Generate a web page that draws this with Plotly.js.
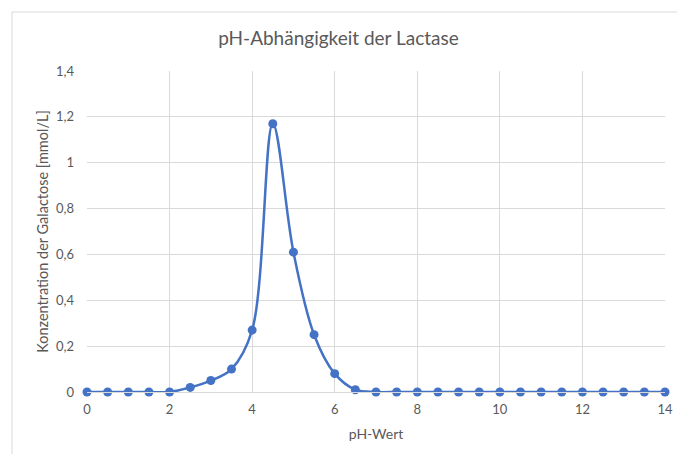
<!DOCTYPE html>
<html>
<head>
<meta charset="utf-8">
<script src="https://cdn.plot.ly/plotly-3.0.1.min.js"></script>
<style>
html,body{margin:0;padding:0;background:#fff;}
#chart{width:677px;height:454px;}
</style>
</head>
<body>
<div id="chart"></div>
<script>
const phValues = [0,0.5,1,1.5,2,2.5,3,3.5,4,4.5,5,5.5,6,6.5,7,7.5,8,8.5,9,9.5,10,10.5,11,11.5,12,12.5,13,13.5,14];
const galactose = [0,0,0,0,0,0.02,0.05,0.1,0.27,1.17,0.61,0.25,0.08,0.01,0,0,0,0,0,0,0,0,0,0,0,0,0,0,0];
const xTicks = [0,2,4,6,8,10,12,14];
const yTicks = [0,0.2,0.4,0.6,0.8,1,1.2,1.4];
const titleText = 'pH-Abhängigkeit der Lactase';
const xTitle = 'pH-Wert';
const yTitle = 'Konzentration der Galactose [mmol/L]';

const font = 'Lato, "Open Sans", sans-serif';
const grey = '#595959';

Plotly.newPlot('chart', [{
  x: phValues, y: galactose, type: 'scatter', mode: 'lines+markers',
  line: {color: '#4472C4', width: 2.5, shape: 'spline', smoothing: 1},
  marker: {color: '#4472C4', size: 9},
  cliponaxis: false, hoverinfo: 'none'
}], {
  width: 677, height: 454,
  margin: {l: 87, r: 12, t: 71, b: 62},
  paper_bgcolor: '#fff', plot_bgcolor: '#fff',
  separators: ',.',
  font: {family: font, color: grey, size: 13},
  title: {text: titleText, font: {family: font, size: 19, color: grey}, x: 0.5, xanchor: 'center', y: 0.915, yanchor: 'middle'},
  showlegend: false,
  xaxis: {
    range: [0, 14], tickvals: xTicks, ticktext: xTicks.map(String),
    showgrid: true, gridcolor: '#d9d9d9', gridwidth: 1,
    zeroline: false, showline: true, linecolor: '#d9d9d9', linewidth: 1,
    ticks: '', ticklabelstandoff: 5,
    tickfont: {family: font, size: 13, color: grey},
    title: {text: xTitle, font: {family: font, size: 14, color: grey}, standoff: 13}
  },
  yaxis: {
    range: [0, 1.4], tickvals: yTicks,
    showgrid: true, gridcolor: '#d9d9d9', gridwidth: 1,
    zeroline: false, showline: false,
    ticks: '', ticklabelstandoff: 12,
    tickfont: {family: font, size: 13, color: grey},
    title: {text: yTitle, font: {family: font, size: 14.5, color: grey}, standoff: 3}
  },
  shapes: [{
    type: 'rect', xref: 'paper', yref: 'paper', layer: 'below',
    x0: -75/578, x1: 1 + 20/578, y0: -68/321, y1: 1 + 59/321,
    line: {color: '#d9d9d9', width: 1}, fillcolor: 'rgba(0,0,0,0)'
  }]
}, {staticPlot: true});
</script>
</body>
</html>
